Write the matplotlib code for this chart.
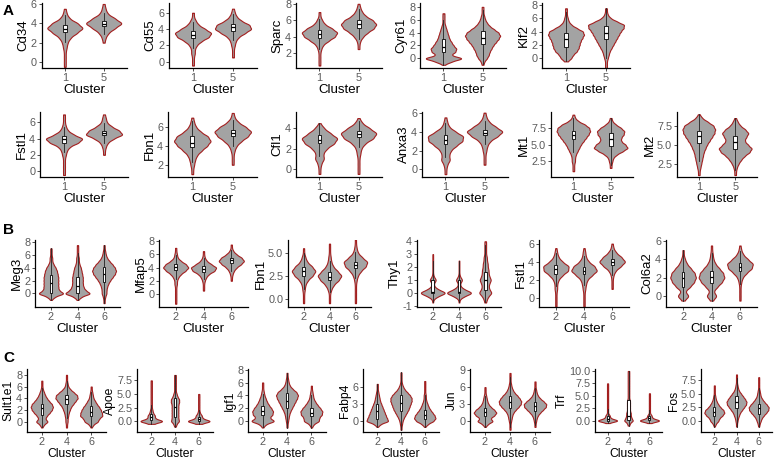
import numpy as np
import matplotlib
matplotlib.use('Agg')
import matplotlib.pyplot as plt

plt.rcParams['font.family'] = ['Liberation Sans', 'DejaVu Sans']

# ---------------- data ----------------
# each violin is given as cell counts per expression level (levels listed per gene),
# box = (q1, median, q3) read off the white boxes
clusters_a = ['1', '5']
clusters_bc = ['2', '4', '6']

# panel A, row 1
lv_cd34 = [-0.5, 0.0, 0.5, 1.0, 1.5, 2.0, 2.5, 3.0, 3.5, 4.0, 4.5, 5.0, 5.5, 6.0]
cd34 = [[1, 1, 1, 1, 2, 3, 6, 13, 20, 14, 5, 2, 1, 0],
        [0, 0, 0, 0, 0, 1, 2, 5, 12, 20, 12, 4, 2, 1]]
cd34_box = [(3.1, 3.45, 3.8), (3.7, 3.95, 4.25)]

lv_cd55 = [-0.5, 0.0, 0.5, 1.0, 1.5, 2.0, 2.5, 3.0, 3.5, 4.0, 4.5, 5.0, 5.5, 6.0, 6.5]
cd55 = [[1, 1, 1, 2, 2, 4, 9, 17, 20, 13, 6, 3, 1, 1, 0],
        [0, 0, 1, 1, 1, 2, 3, 6, 13, 20, 18, 9, 4, 2, 1]]
cd55_box = [(2.9, 3.3, 3.7), (3.8, 4.2, 4.6)]

lv_sparc = [0.5, 1.0, 1.5, 2.0, 2.5, 3.0, 3.5, 4.0, 4.5, 5.0, 5.5, 6.0, 6.5, 7.0, 7.5, 8.0]
sparc = [[1, 1, 1, 1, 2, 4, 10, 17, 20, 14, 6, 3, 1, 1, 0, 0],
         [0, 0, 0, 0, 1, 1, 2, 5, 10, 17, 20, 16, 8, 4, 2, 1]]
sparc_box = [(3.9, 4.3, 4.8), (5.1, 5.6, 6.0)]

lv_cyr61 = [-1.0, -0.5, 0.0, 0.5, 1.0, 1.5, 2.0, 2.5, 3.0, 3.5, 4.0, 4.5, 5.0, 5.5, 6.0, 6.5, 7.0, 7.5, 8.0]
cyr61 = [[1, 8, 20, 7, 12, 13, 10, 8, 6, 5, 4, 3, 2, 1, 1, 1, 1, 0, 0],
         [1, 2, 5, 7, 8, 10, 12, 15, 18, 20, 18, 13, 8, 5, 3, 2, 1, 1, 1]]
cyr61_box = [(1.0, 1.7, 3.0), (2.2, 3.2, 4.3)]

lv_klf2 = [-1.5, -1.0, -0.5, 0.0, 0.5, 1.0, 1.5, 2.0, 2.5, 3.0, 3.5, 4.0, 4.5, 5.0, 5.5, 6.0, 6.5, 7.0, 7.5]
klf2 = [[0, 0, 2, 6, 8, 12, 14, 15, 16, 18, 20, 19, 12, 6, 3, 2, 1, 1, 1],
        [1, 1, 1, 2, 3, 4, 6, 8, 10, 12, 14, 16, 19, 20, 12, 5, 2, 1, 1]]
klf2_box = [(1.7, 2.8, 3.8), (2.9, 3.8, 4.8)]

# panel A, row 2
lv_fstl1_a = [-0.5, 0.0, 0.5, 1.0, 1.5, 2.0, 2.5, 3.0, 3.5, 4.0, 4.5, 5.0, 5.5, 6.0, 6.5, 7.0]
fstl1_a = [[1, 1, 1, 1, 1, 2, 3, 6, 15, 20, 10, 4, 2, 1, 1, 1],
           [0, 0, 0, 0, 0, 1, 1, 2, 4, 10, 20, 16, 8, 3, 2, 1]]
fstl1_a_box = [(3.5, 3.9, 4.3), (4.4, 4.7, 5.0)]

lv_fbn1_a = [1.0, 1.5, 2.0, 2.5, 3.0, 3.5, 4.0, 4.5, 5.0, 5.5, 6.0, 6.5, 7.0, 7.5]
fbn1_a = [[1, 1, 2, 3, 5, 10, 16, 20, 17, 9, 4, 2, 1, 0],
          [0, 0, 1, 1, 1, 2, 4, 9, 16, 20, 14, 6, 2, 1]]
fbn1_a_box = [(3.9, 4.35, 5.0), (5.0, 5.35, 5.7)]

lv_cfl1 = [-0.5, 0.0, 0.5, 1.0, 1.5, 2.0, 2.5, 3.0, 3.5, 4.0, 4.5, 5.0]
cfl1 = [[1, 1, 2, 5, 4, 8, 16, 20, 12, 5, 1, 0],
        [1, 1, 1, 1, 2, 3, 7, 16, 20, 12, 4, 1]]
cfl1_box = [(2.5, 2.85, 3.3), (3.1, 3.4, 3.75)]

lv_anxa3 = [-0.5, 0.0, 0.5, 1.0, 1.5, 2.0, 2.5, 3.0, 3.5, 4.0, 4.5, 5.0, 5.5, 6.0]
anxa3 = [[1, 1, 2, 5, 4, 6, 12, 19, 20, 11, 4, 2, 1, 0],
         [0, 0, 1, 1, 1, 2, 3, 6, 14, 20, 12, 5, 2, 1]]
anxa3_box = [(2.7, 3.15, 3.6), (3.6, 3.9, 4.2)]

lv_mt1 = [1.0, 1.5, 2.0, 2.5, 3.0, 3.5, 4.0, 4.5, 5.0, 5.5, 6.0, 6.5, 7.0, 7.5, 8.0, 8.5, 9.0, 9.5]
mt1 = [[1, 1, 1, 2, 2, 3, 5, 7, 9, 12, 15, 18, 20, 19, 14, 6, 2, 1],
       [0, 1, 1, 2, 3, 7, 14, 20, 17, 12, 12, 15, 16, 12, 6, 2, 1, 0]]
mt1_box = [(5.8, 6.5, 7.1), (4.8, 5.8, 6.7)]

lv_mt2 = [1.0, 1.5, 2.0, 2.5, 3.0, 3.5, 4.0, 4.5, 5.0, 5.5, 6.0, 6.5, 7.0, 7.5, 8.0, 8.5, 9.0]
mt2 = [[1, 1, 2, 3, 4, 5, 6, 8, 10, 13, 16, 19, 20, 18, 11, 4, 1],
       [1, 1, 2, 4, 7, 11, 17, 20, 15, 11, 13, 16, 12, 6, 3, 1, 0]]
mt2_box = [(5.2, 6.2, 6.8), (4.4, 5.4, 6.2)]

# panel B
lv_meg3 = [-1.5, -1.0, -0.5, 0.0, 0.5, 1.0, 1.5, 2.0, 2.5, 3.0, 3.5, 4.0, 4.5, 5.0, 5.5, 6.0, 6.5, 7.0, 7.5]
meg3 = [[0, 1, 6, 20, 12, 11, 11, 11, 11, 10, 9, 7, 4, 2, 2, 1, 1, 1, 0],
        [0, 1, 6, 20, 12, 9, 8, 8, 8, 7, 6, 5, 3, 2, 2, 1, 1, 1, 1],
        [1, 1, 2, 4, 4, 5, 7, 10, 14, 18, 20, 18, 14, 9, 5, 3, 2, 1, 1]]
meg3_box = [(0.0, 1.6, 2.9), (0.1, 1.1, 2.6), (1.8, 3.0, 4.1)]

lv_mfap5 = [-1.5, -1.0, -0.5, 0.0, 0.5, 1.0, 1.5, 2.0, 2.5, 3.0, 3.5, 4.0, 4.5, 5.0, 5.5, 6.0, 6.5, 7.0, 7.5]
mfap5 = [[1, 1, 1, 1, 1, 1, 2, 2, 4, 8, 15, 20, 16, 8, 3, 2, 1, 1, 0],
         [0, 0, 0, 0, 1, 1, 1, 2, 4, 8, 17, 20, 12, 5, 2, 1, 1, 0, 0],
         [0, 0, 0, 0, 0, 0, 0, 1, 1, 2, 4, 8, 15, 20, 16, 8, 3, 1, 1]]
mfap5_box = [(3.6, 4.1, 4.5), (3.4, 3.8, 4.2), (4.7, 5.1, 5.5)]

lv_fbn1_b = [-0.5, 0.0, 0.5, 1.0, 1.5, 2.0, 2.5, 3.0, 3.5, 4.0, 4.5, 5.0, 5.5, 6.0, 6.5]
fbn1_b = [[1, 1, 1, 2, 3, 7, 15, 20, 14, 6, 3, 1, 1, 0, 0],
          [1, 1, 1, 3, 7, 15, 20, 13, 6, 3, 2, 1, 1, 1, 0],
          [1, 1, 1, 1, 1, 2, 4, 9, 17, 20, 11, 4, 2, 1, 1]]
fbn1_b_box = [(2.5, 3.0, 3.5), (2.0, 2.4, 2.85), (3.35, 3.7, 4.05)]

lv_thy1 = [-0.75, -0.5, -0.25, 0.0, 0.25, 0.5, 0.75, 1.0, 1.25, 1.5, 1.75, 2.0,
           2.25, 2.5, 2.75, 3.0, 3.25, 3.5, 3.75, 4.0]
thy1 = [[1, 2, 16, 40, 16, 4, 3, 10, 3, 1, 1, 1, 1, 1, 1, 1, 0, 0, 0, 0],
        [1, 2, 16, 40, 16, 4, 3, 10, 3, 1, 1, 1, 1, 1, 0, 0, 0, 0, 0, 0],
        [1, 2, 4, 8, 5, 4, 5, 7, 5, 4, 4, 3, 3, 2, 2, 1, 1, 1, 1, 1]]
thy1_box = [(0.0, 0.05, 1.0), (0.0, 0.1, 1.0), (0.2, 1.0, 1.6)]

lv_fstl1_b = [-1.0, -0.5, 0.0, 0.5, 1.0, 1.5, 2.0, 2.5, 3.0, 3.5, 4.0, 4.5, 5.0, 5.5, 6.0, 6.5]
fstl1_b = [[1, 1, 1, 1, 2, 2, 4, 10, 19, 20, 10, 4, 2, 1, 0, 0],
           [1, 1, 1, 1, 2, 3, 5, 12, 20, 16, 7, 3, 2, 1, 0, 0],
           [0, 0, 0, 0, 1, 1, 1, 2, 5, 13, 20, 14, 6, 2, 1, 0]]
fstl1_b_box = [(2.7, 3.2, 3.6), (2.6, 3.0, 3.4), (3.6, 3.95, 4.3)]

lv_col6a2 = [-0.5, 0.0, 0.5, 1.0, 1.5, 2.0, 2.5, 3.0, 3.5, 4.0, 4.5, 5.0, 5.5, 6.0]
col6a2 = [[2, 9, 3, 11, 17, 20, 18, 12, 6, 3, 1, 1, 0, 0],
          [2, 8, 3, 9, 16, 20, 18, 12, 6, 3, 2, 1, 1, 0],
          [1, 1, 1, 1, 2, 4, 10, 18, 20, 12, 5, 2, 1, 0]]
col6a2_box = [(1.0, 2.0, 2.6), (1.4, 2.1, 2.7), (2.7, 3.2, 3.6)]

# panel C
lv_sult1e1 = [-1.0, -0.5, 0.0, 0.5, 1.0, 1.5, 2.0, 2.5, 3.0, 3.5, 4.0, 4.5, 5.0, 5.5, 6.0, 6.5, 7.0, 7.5, 8.0]
sult1e1 = [[1, 4, 11, 6, 9, 14, 18, 20, 18, 13, 9, 6, 4, 2, 1, 1, 1, 0, 0],
           [1, 1, 2, 2, 3, 4, 6, 8, 12, 16, 20, 19, 13, 7, 3, 2, 1, 1, 1],
           [1, 4, 12, 14, 20, 19, 17, 14, 10, 7, 4, 3, 2, 1, 1, 0, 0, 0, 0]]
sult1e1_box = [(1.2, 2.3, 3.0), (3.0, 3.8, 4.6), (1.0, 1.7, 2.6)]

lv_apoe = [-1.0, -0.5, 0.0, 0.5, 1.0, 1.5, 2.0, 2.5, 3.0, 3.5, 4.0, 4.5, 5.0, 5.5, 6.0, 6.5, 7.0, 7.5, 8.0, 8.5]
apoe = [[0, 4, 20, 6, 6, 3, 2, 1, 1, 1, 1, 1, 1, 1, 1, 1, 1, 1, 0, 0],
        [1, 2, 5, 4, 4, 4, 4, 4, 4, 5, 5, 3, 2, 1, 1, 1, 1, 1, 1, 1],
        [0, 4, 20, 6, 5, 2, 1, 1, 1, 1, 1, 1, 1, 0, 0, 0, 0, 0, 0, 0]]
apoe_box = [(0.2, 0.7, 1.3), (0.8, 2.6, 4.2), (0.05, 0.35, 0.85)]

lv_igf1 = [-1.0, -0.5, 0.0, 0.5, 1.0, 1.5, 2.0, 2.5, 3.0, 3.5, 4.0, 4.5, 5.0, 5.5, 6.0, 6.5, 7.0, 7.5]
igf1 = [[1, 5, 20, 11, 16, 17, 14, 10, 7, 5, 3, 2, 1, 1, 1, 0, 0, 0],
        [1, 1, 2, 3, 4, 6, 9, 12, 15, 18, 20, 17, 10, 5, 3, 2, 1, 1],
        [1, 4, 14, 14, 19, 20, 16, 11, 7, 4, 3, 2, 1, 1, 0, 0, 0, 0]]
igf1_box = [(1.0, 1.6, 2.3), (2.1, 3.2, 4.3), (0.8, 1.3, 2.1)]

lv_fabp4 = [-1.5, -1.0, -0.5, 0.0, 0.5, 1.0, 1.5, 2.0, 2.5, 3.0, 3.5, 4.0, 4.5, 5.0, 5.5, 6.0, 6.5, 7.0, 7.5, 8.0, 8.5]
fabp4 = [[0, 1, 6, 20, 17, 15, 13, 11, 9, 7, 5, 4, 3, 2, 1, 1, 1, 0, 0, 0, 0],
         [1, 1, 2, 3, 5, 8, 11, 14, 16, 18, 20, 20, 17, 12, 7, 4, 2, 1, 1, 1, 1],
         [0, 1, 6, 16, 20, 18, 14, 10, 7, 5, 3, 2, 2, 1, 1, 1, 1, 1, 0, 0, 0]]
fabp4_box = [(0.4, 1.7, 3.0), (1.8, 3.2, 4.5), (0.3, 1.0, 2.0)]

lv_jun = [-1.5, -1.0, -0.5, 0.0, 0.5, 1.0, 1.5, 2.0, 2.5, 3.0, 3.5, 4.0, 4.5, 5.0, 5.5, 6.0, 6.5, 7.0, 7.5, 8.0, 8.5]
jun = [[0, 1, 5, 14, 9, 16, 20, 16, 10, 6, 4, 3, 2, 1, 1, 1, 0, 0, 0, 0, 0],
       [1, 1, 1, 2, 3, 4, 6, 10, 15, 19, 20, 17, 13, 8, 5, 3, 2, 1, 1, 1, 1],
       [0, 1, 1, 2, 3, 5, 9, 14, 19, 20, 15, 9, 5, 3, 2, 1, 1, 1, 0, 0, 0]]
jun_box = [(1.0, 1.7, 2.4), (2.3, 3.4, 4.5), (1.8, 2.6, 3.4)]

lv_trf = [-1.0, -0.5, 0.0, 0.5, 1.0, 1.5, 2.0, 2.5, 3.0, 3.5, 4.0, 4.5, 5.0, 5.5, 6.0, 6.5, 7.0, 7.5,
          8.0, 8.5, 9.0, 9.5, 10.0]
trf = [[0, 2, 20, 5, 4, 1, 1, 1, 1, 1, 1, 1, 1, 1, 1, 1, 1, 1, 0, 0, 0, 0, 0],
       [1, 2, 6, 4, 3, 3, 2, 2, 2, 2, 2, 1, 1, 1, 1, 1, 1, 1, 1, 1, 1, 1, 1],
       [0, 2, 20, 5, 4, 1, 1, 1, 1, 1, 1, 1, 1, 1, 0, 0, 0, 0, 0, 0, 0, 0, 0]]
trf_box = [(0.0, 0.4, 0.9), (0.1, 1.0, 4.2), (0.05, 0.45, 0.9)]

lv_fos = [-1.0, -0.5, 0.0, 0.5, 1.0, 1.5, 2.0, 2.5, 3.0, 3.5, 4.0, 4.5, 5.0, 5.5, 6.0, 6.5, 7.0, 7.5, 8.0, 8.5]
fos = [[1, 3, 8, 10, 16, 20, 18, 12, 8, 5, 3, 2, 1, 1, 1, 1, 0, 0, 0, 0],
       [1, 1, 2, 3, 5, 7, 11, 15, 19, 20, 17, 13, 9, 5, 3, 2, 1, 1, 1, 1],
       [1, 2, 4, 6, 10, 15, 19, 20, 16, 11, 7, 4, 3, 2, 1, 1, 1, 1, 1, 0]]
fos_box = [(1.0, 1.7, 2.5), (2.3, 3.4, 4.5), (1.3, 2.3, 3.2)]

# ---------------- layout (pixels: left, right / top, bottom) ----------------
W, H = 775, 461
row_a1 = (3, 68)
row_a2 = (112, 177)
row_b = (240, 307)
row_c = (369, 432)

# gene, clusters, levels, counts, box, row, x-extent, ylim, yticks, bandwidth, violin widths
panels = [
    ('Cd34', clusters_a, lv_cd34, cd34, cd34_box, row_a1, (41.5, 127), (-0.62, 6.1), [0, 2, 4, 6], 0.25, None),
    ('Cd55', clusters_a, lv_cd55, cd55, cd55_box, row_a1, (169, 257), (-0.8, 7.2), [0, 2, 4, 6], 0.25, None),
    ('Sparc', clusters_a, lv_sparc, sparc, sparc_box, row_a1, (296, 382), (0.2, 8.1), [2, 4, 6, 8], 0.25, None),
    ('Cyr61', clusters_a, lv_cyr61, cyr61, cyr61_box, row_a1, (420, 506), (-1.5, 8.6), [0, 2, 4, 6, 8], 0.25, None),
    ('Klf2', clusters_a, lv_klf2, klf2, klf2_box, row_a1, (542, 630), (-1.5, 8.3), [0, 2, 4, 6, 8], 0.25, None),
    ('Fstl1', clusters_a, lv_fstl1_a, fstl1_a, fstl1_a_box, row_a2, (40, 128), (-0.75, 7.3), [0, 2, 4, 6], 0.25, None),
    ('Fbn1', clusters_a, lv_fbn1_a, fbn1_a, fbn1_a_box, row_a2, (168, 257), (0.7, 7.6), [2, 4, 6], 0.25, None),
    ('Cfl1', clusters_a, lv_cfl1, cfl1, cfl1_box, row_a2, (296, 382), (-0.8, 5.6), [0, 2, 4], 0.25, None),
    ('Anxa3', clusters_a, lv_anxa3, anxa3, anxa3_box, row_a2, (422, 508), (-0.8, 6.07), [0, 2, 4, 6], 0.25, None),
    ('Mt1', clusters_a, lv_mt1, mt1, mt1_box, row_a2, (551, 633), (0.13, 9.9), [2.5, 5.0, 7.5], 0.25, None),
    ('Mt2', clusters_a, lv_mt2, mt2, mt2_box, row_a2, (677, 757), (0.75, 9.3), [2.5, 5.0, 7.5], 0.25, None),
    ('Meg3', clusters_bc, lv_meg3, meg3, meg3_box, row_b, (35, 120), (-2.1, 8.3), [0, 2, 4, 6, 8], 0.25, None),
    ('Mfap5', clusters_bc, lv_mfap5, mfap5, mfap5_box, row_b, (159, 248), (-2.0, 8.2), [0, 2, 4, 6, 8], 0.25, None),
    ('Fbn1', clusters_bc, lv_fbn1_b, fbn1_b, fbn1_b_box, row_b, (288, 371), (-0.92, 6.4), [0.0, 2.5, 5.0], 0.25, None),
    ('Thy1', clusters_bc, lv_thy1, thy1, thy1_box, row_b, (417, 501), (-1.1, 4.1), [-1, 0, 1, 2, 3, 4], 0.14,
     [0.9, 0.9, 0.45]),
    ('Fstl1', clusters_bc, lv_fstl1_b, fstl1_b, fstl1_b_box, row_b, (539, 629), (-1.0, 6.4), [0, 2, 4, 6], 0.25, None),
    ('Col6a2', clusters_bc, lv_col6a2, col6a2, col6a2_box, row_b, (666, 757), (-1.2, 6.1), [0, 2, 4, 6], 0.25, None),
    ('Sult1e1', clusters_bc, lv_sult1e1, sult1e1, sult1e1_box, row_c, (27, 106), (-1.77, 9.0), [0, 2, 4, 6, 8], 0.25, None),
    ('Apoe', clusters_bc, lv_apoe, apoe, apoe_box, row_c, (137, 213), (-2.0, 9.6), [0.0, 2.5, 5.0, 7.5], 0.25,
     [0.9, 0.35, 0.9]),
    ('Igf1', clusters_bc, lv_igf1, igf1, igf1_box, row_c, (248, 326), (-1.7, 8.1), [0, 2, 4, 6, 8], 0.25, None),
    ('Fabp4', clusters_bc, lv_fabp4, fabp4, fabp4_box, row_c, (363, 439), (-1.9, 9.1), [0, 3, 6], 0.25, None),
    ('Jun', clusters_bc, lv_jun, jun, jun_box, row_c, (470, 550), (-1.9, 9.2), [0, 3, 6, 9], 0.25, None),
    ('Trf', clusters_bc, lv_trf, trf, trf_box, row_c, (595, 662), (-2.3, 10.4), [0.0, 2.5, 5.0, 7.5, 10.0], 0.25,
     [0.9, 0.4, 0.9]),
    ('Fos', clusters_bc, lv_fos, fos, fos_box, row_c, (701, 772), (-2.0, 9.5), [0.0, 2.5, 5.0, 7.5], 0.25, None),
]

fig = plt.figure(figsize=(W / 100, H / 100), dpi=100)

for gene, cl, lv, counts, box, (top, bot), (left, right), ylim, yticks, bw, vw in panels:
    ax = fig.add_axes([left / W, 1 - bot / H, (right - left) / W, (bot - top) / H])
    pos = np.arange(1, len(cl) + 1)
    if vw is None:
        vw = [0.9] * len(cl)
    cells = [np.repeat(lv, n) for n in counts]
    vp = ax.violinplot(cells, positions=pos, widths=vw, showextrema=False, points=200,
                       bw_method=lambda k, h=bw: h / np.std(k.dataset, ddof=1))
    for body in vp['bodies']:
        body.set_facecolor('#a3a3a3')
        body.set_edgecolor('#a31f1f')
        body.set_linewidth(0.8)
        body.set_alpha(1)
    stats = []
    for c, (q1, med, q3) in zip(cells, box):
        iqr = q3 - q1
        lo = max(c.min(), q1 - 1.5 * iqr)
        hi = min(c.max(), q3 + 1.5 * iqr)
        stats.append(dict(med=med, q1=q1, q3=q3, whislo=lo, whishi=hi, fliers=[]))
    ax.bxp(stats, positions=pos, widths=0.1, patch_artist=True, showfliers=False, showcaps=False,
           boxprops=dict(facecolor='white', edgecolor='black', linewidth=0.6),
           medianprops=dict(color='black', linewidth=0.9),
           whiskerprops=dict(color='#222222', linewidth=0.6))
    ax.set_xlim(0.4, len(cl) + 0.6)
    ax.set_ylim(*ylim)
    ax.set_xticks(pos)
    ax.set_xticklabels(cl)
    ax.set_yticks(yticks)
    if any(float(t) != int(t) for t in yticks):
        ax.set_yticklabels(['%.1f' % t for t in yticks])
    else:
        ax.set_yticklabels(['%d' % t for t in yticks])
    for s in ['top', 'right']:
        ax.spines[s].set_visible(False)
    for s in ['left', 'bottom']:
        ax.spines[s].set_linewidth(0.9)
        ax.spines[s].set_color('black')
    fs = 8.7 if (top, bot) == row_c else 9.5
    ax.tick_params(length=2.5, width=0.6, pad=1, labelsize=7.8, labelcolor='#5a5a5a', color='#333333')
    ax.set_xlabel('Cluster', fontsize=fs, labelpad=1)
    ax.set_ylabel(gene, fontsize=fs, labelpad=1)

fig.text(3 / W, 1 - 15 / H, 'A', fontsize=11, fontweight='bold')
fig.text(3 / W, 1 - 234 / H, 'B', fontsize=11, fontweight='bold')
fig.text(3 / W, 1 - 362 / H, 'C', fontsize=11, fontweight='bold')

fig.savefig('out.png', dpi=100)
